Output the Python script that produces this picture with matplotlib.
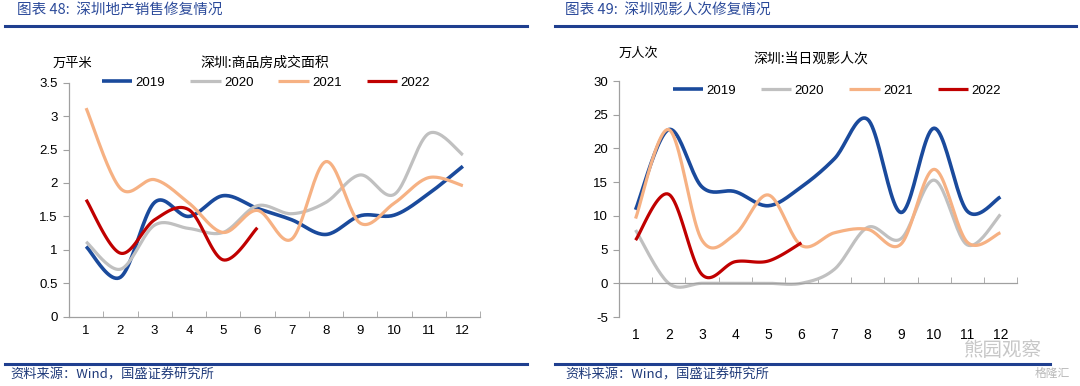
import numpy as np
import matplotlib as mpl
mpl.use('Agg')
import matplotlib.pyplot as plt

plt.rcParams['font.family'] = ['Liberation Sans', 'Noto Sans CJK SC', 'DejaVu Sans']

months = list(range(1, 13))
month_labels = [str(m) for m in months]
years = ['2019', '2020', '2021', '2022']
colors = ['#1a4a9c', '#c0c0c0', '#f6b183', '#c00000']
widths = [2.6, 2.3, 2.3, 2.3]

# 深圳:商品房成交面积 (万平米)
area_2019 = [1.05, 0.59, 1.71, 1.50, 1.81, 1.62, 1.45, 1.23, 1.51, 1.52, 1.84, 2.25]
area_2020 = [1.12, 0.71, 1.37, 1.32, 1.26, 1.66, 1.54, 1.71, 2.12, 1.83, 2.74, 2.42]
area_2021 = [3.12, 1.92, 2.05, 1.70, 1.26, 1.59, 1.16, 2.32, 1.40, 1.70, 2.08, 1.96]
area_2022 = [1.75, 0.95, 1.45, 1.60, 0.85, 1.33]

# 深圳:当日观影人次 (万人次)
movie_2019 = [10.9, 22.8, 14.3, 13.6, 11.5, 14.3, 18.5, 24.3, 10.5, 23.0, 10.7, 12.8]
movie_2020 = [7.9, 0.0, 0.0, 0.0, 0.0, 0.0, 2.1, 8.3, 6.6, 15.3, 5.7, 10.2]
movie_2021 = [9.6, 22.8, 6.4, 7.3, 13.1, 5.6, 7.5, 8.0, 5.8, 16.9, 6.1, 7.5]
movie_2022 = [6.4, 13.2, 1.3, 3.2, 3.3, 6.0]

TITLE_BLUE = '#2b4a9a'
RULE_BLUE = '#1f3f8f'
SRC_BLUE = '#1f3a7a'


def smooth(x, y, n=24):
    # excel style smoothed line (bezier through the points)
    pts = np.column_stack([x, y]).astype(float)
    P = np.vstack([pts[0], pts, pts[-1]])
    t = np.linspace(0, 1, n)[:, None]
    out = []
    for i in range(1, len(P) - 2):
        p0, p1, p2, p3 = P[i - 1], P[i], P[i + 1], P[i + 2]
        c1 = p1 + (p2 - p0) / 6
        c2 = p2 - (p3 - p1) / 6
        seg = (1 - t) ** 3 * p1 + 3 * (1 - t) ** 2 * t * c1 + 3 * (1 - t) * t ** 2 * c2 + t ** 3 * p2
        out.append(seg if i == 1 else seg[1:])
    s = np.vstack(out)
    return s[:, 0], s[:, 1]


def style_axes(ax, ylim, yticks, label_pad):
    for side in ['top', 'right']:
        ax.spines[side].set_visible(False)
    for side in ['left', 'bottom']:
        ax.spines[side].set_color('#a0a0a0')
        ax.spines[side].set_linewidth(0.9)
    ax.set_xlim(0.5, 12.5)
    ax.set_ylim(*ylim)
    ax.set_yticks(yticks)
    ax.set_yticklabels([('%g' % v) for v in yticks], fontsize=9.5)
    ax.set_xticks(months)
    ax.set_xticklabels(month_labels, fontsize=9.5)
    ax.set_xticks(np.arange(0.5, 13, 1), minor=True)
    ax.tick_params(axis='x', which='major', length=0, pad=label_pad)
    ax.tick_params(axis='x', which='minor', direction='in', length=4, color='#a0a0a0')
    ax.tick_params(axis='y', direction='out', length=4, color='#a0a0a0', pad=4)


def draw_series(ax, series):
    for vals, c, w, lab in zip(series, colors, widths, years):
        xs, ys = smooth(months[:len(vals)], vals)
        ax.plot(xs, ys, color=c, lw=w, label=lab, solid_capstyle='butt')


fig = plt.figure(figsize=(10.8, 3.86), dpi=100)

# left panel
ax1 = fig.add_axes([69 / 1080, 1 - 316.7 / 386, 411 / 1080, 234 / 386])
draw_series(ax1, [area_2019, area_2020, area_2021, area_2022])
style_axes(ax1, (0, 3.5), [0, 0.5, 1, 1.5, 2, 2.5, 3, 3.5], 6)
ax1.legend(ncol=4, frameon=False, loc='center left', bbox_to_anchor=(0.08, 1.0),
           borderpad=0, borderaxespad=0, handlelength=2.3, handletextpad=0.25,
           columnspacing=1.9, fontsize=9.5)

# right panel
ax2 = fig.add_axes([619 / 1080, 1 - 317 / 386, 398 / 1080, 236 / 386])
draw_series(ax2, [movie_2019, movie_2020, movie_2021, movie_2022])
style_axes(ax2, (-5, 30), [-5, 0, 5, 10, 15, 20, 25, 30], 32)
ax2.spines['bottom'].set_position(('data', 0))
ax2.legend(ncol=4, frameon=False, loc='center left', bbox_to_anchor=(0.135, 0.958),
           borderpad=0, borderaxespad=0, handlelength=2.3, handletextpad=0.25,
           columnspacing=1.9, fontsize=9.5)

cjk = ['Noto Sans CJK SC', 'DejaVu Sans']

# titles and rules
fig.text(17 / 1080, 1 - 10 / 386, '图表 48:  深圳地产销售修复情况', family=cjk, fontsize=10.5,
         color=TITLE_BLUE, va='center', ha='left')
fig.text(565 / 1080, 1 - 10 / 386, '图表 49:  深圳观影人次修复情况', family=cjk, fontsize=10.5,
         color=TITLE_BLUE, va='center', ha='left')
for x0, x1 in [(5, 527), (555, 1076)]:
    fig.add_artist(plt.Line2D([x0 / 1080, x1 / 1080], [1 - 26 / 386] * 2, color=RULE_BLUE, lw=2.2))
for x0, x1 in [(5, 527), (555, 1050)]:
    fig.add_artist(plt.Line2D([x0 / 1080, x1 / 1080], [1 - 364 / 386] * 2, color=RULE_BLUE, lw=2.2))

# unit labels and chart subtitles
fig.text(72 / 1080, 1 - 63 / 386, '万平米', family=cjk, fontsize=9.5, ha='center', va='center')
fig.text(265 / 1080, 1 - 63 / 386, '深圳:商品房成交面积', family=cjk, fontsize=10, ha='center', va='center')
fig.text(638 / 1080, 1 - 53 / 386, '万人次', family=cjk, fontsize=9.5, ha='center', va='center')
fig.text(811 / 1080, 1 - 59 / 386, '深圳:当日观影人次', family=cjk, fontsize=10, ha='center', va='center')

# sources
for x in [10, 565]:
    fig.text(x / 1080, 1 - 375 / 386, '资料来源：Wind，国盛证券研究所', family=cjk, fontsize=9.5,
             color=SRC_BLUE, ha='left', va='center')

# watermark
fig.text(1003 / 1080, 1 - 351 / 386, '熊园观察', family=cjk, fontsize=14, color='#9a9a9a',
         alpha=0.55, ha='center', va='center')
fig.text(1052 / 1080, 1 - 373 / 386, '格隆汇', family=cjk, fontsize=8.5, color='#9a9a9a',
         alpha=0.7, ha='center', va='center')

fig.savefig('out.png', dpi=100)
